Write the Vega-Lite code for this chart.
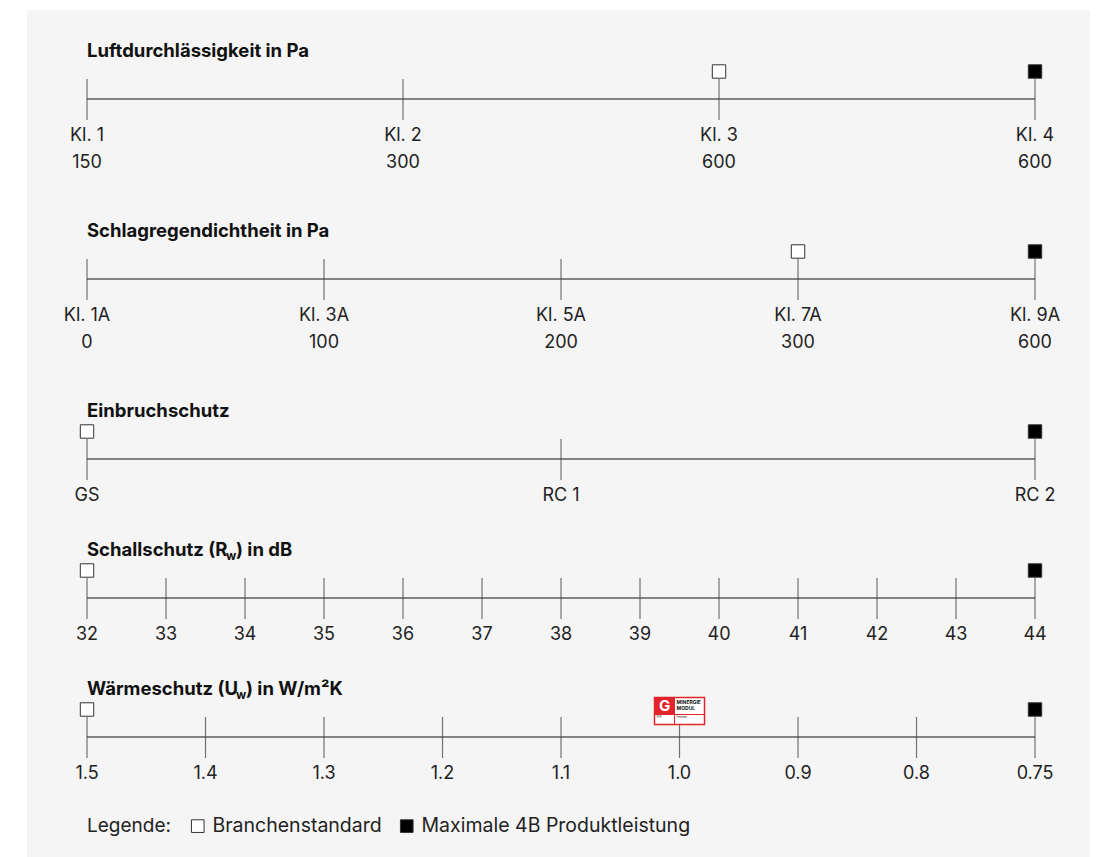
{
  "$schema": "https://vega.github.io/schema/vega-lite/v6.json",
  "width": 1100,
  "height": 857,
  "autosize": {"type": "fit", "contains": "padding"},
  "padding": {"left": 27, "top": 10, "right": 10, "bottom": 0},
  "background": "#ffffff",
  "config": {
    "view": {"fill": "#f5f5f5", "stroke": null},
    "font": "Inter",
    "text": {"font": "Inter"}
  },
  "datasets": {
    "titles": [
      {"row": 1, "pos": 0, "t1": "Luftdurchlässigkeit in Pa"},
      {"row": 2, "pos": 0, "t1": "Schlagregendichtheit in Pa"},
      {"row": 3, "pos": 0, "t1": "Einbruchschutz"},
      {"row": 4, "pos": 0, "t1": "Schallschutz (R", "sub": "w", "t2": ") in dB"},
      {"row": 5, "pos": 0, "t1": "Wärmeschutz (U", "sub": "w", "t2": ") in W/m²K"}
    ],
    "ticks": [
      {"row": 1, "pos": 0, "l1": "Kl. 1", "l2": "150"},
      {"row": 1, "pos": 0.33333, "l1": "Kl. 2", "l2": "300"},
      {"row": 1, "pos": 0.66667, "l1": "Kl. 3", "l2": "600"},
      {"row": 1, "pos": 1, "l1": "Kl. 4", "l2": "600"},
      {"row": 2, "pos": 0, "l1": "Kl. 1A", "l2": "0"},
      {"row": 2, "pos": 0.25, "l1": "Kl. 3A", "l2": "100"},
      {"row": 2, "pos": 0.5, "l1": "Kl. 5A", "l2": "200"},
      {"row": 2, "pos": 0.75, "l1": "Kl. 7A", "l2": "300"},
      {"row": 2, "pos": 1, "l1": "Kl. 9A", "l2": "600"},
      {"row": 3, "pos": 0, "l1": "GS"},
      {"row": 3, "pos": 0.5, "l1": "RC 1"},
      {"row": 3, "pos": 1, "l1": "RC 2"},
      {"row": 4, "pos": 0, "l1": "32"},
      {"row": 4, "pos": 0.08333, "l1": "33"},
      {"row": 4, "pos": 0.16667, "l1": "34"},
      {"row": 4, "pos": 0.25, "l1": "35"},
      {"row": 4, "pos": 0.33333, "l1": "36"},
      {"row": 4, "pos": 0.41667, "l1": "37"},
      {"row": 4, "pos": 0.5, "l1": "38"},
      {"row": 4, "pos": 0.58333, "l1": "39"},
      {"row": 4, "pos": 0.66667, "l1": "40"},
      {"row": 4, "pos": 0.75, "l1": "41"},
      {"row": 4, "pos": 0.83333, "l1": "42"},
      {"row": 4, "pos": 0.91667, "l1": "43"},
      {"row": 4, "pos": 1, "l1": "44"},
      {"row": 5, "pos": 0, "l1": "1.5"},
      {"row": 5, "pos": 0.125, "l1": "1.4"},
      {"row": 5, "pos": 0.25, "l1": "1.3"},
      {"row": 5, "pos": 0.375, "l1": "1.2"},
      {"row": 5, "pos": 0.5, "l1": "1.1"},
      {"row": 5, "pos": 0.625, "l1": "1.0"},
      {"row": 5, "pos": 0.75, "l1": "0.9"},
      {"row": 5, "pos": 0.875, "l1": "0.8"},
      {"row": 5, "pos": 1, "l1": "0.75"}
    ],
    "markers": [
      {"row": 1, "pos": 0.66667, "kind": "Branchenstandard"},
      {"row": 1, "pos": 1, "kind": "Maximale 4B Produktleistung"},
      {"row": 2, "pos": 0.75, "kind": "Branchenstandard"},
      {"row": 2, "pos": 1, "kind": "Maximale 4B Produktleistung"},
      {"row": 3, "pos": 0, "kind": "Branchenstandard"},
      {"row": 3, "pos": 1, "kind": "Maximale 4B Produktleistung"},
      {"row": 4, "pos": 0, "kind": "Branchenstandard"},
      {"row": 4, "pos": 1, "kind": "Maximale 4B Produktleistung"},
      {"row": 5, "pos": 0, "kind": "Branchenstandard"},
      {"row": 5, "pos": 1, "kind": "Maximale 4B Produktleistung"}
    ],
    "logo": [{"row": 5, "pos": 0.625}]
  },
  "encoding": {
    "x": {"field": "pos", "type": "quantitative", "scale": {"domain": [-0.0633, 1.058], "nice": false, "zero": false}, "axis": null},
    "y": {"field": "row", "type": "quantitative", "scale": {"domain": [1, 2, 3, 4, 5], "range": [89, 269, 449, 588, 727], "nice": false, "zero": false}, "axis": null}
  },
  "layer": [
    {
      "data": {"name": "ticks"},
      "mark": {"type": "line", "color": "#111111", "strokeWidth": 1},
      "encoding": {"detail": {"field": "row", "type": "nominal"}}
    },
    {
      "data": {"name": "ticks"},
      "mark": {"type": "tick", "orient": "vertical", "size": 41, "thickness": 1.2, "color": "#3a3a3a", "yOffset": 0.5}
    },
    {
      "data": {"name": "ticks"},
      "mark": {"type": "text", "fontSize": 18, "color": "#222222", "baseline": "middle", "dy": 37},
      "encoding": {"text": {"field": "l1"}}
    },
    {
      "data": {"name": "ticks"},
      "transform": [{"filter": "datum.l2"}],
      "mark": {"type": "text", "fontSize": 18, "color": "#222222", "baseline": "middle", "dy": 64},
      "encoding": {"text": {"field": "l2"}}
    },
    {
      "data": {"name": "markers"},
      "mark": {"type": "point", "shape": "square", "size": 180, "filled": true, "opacity": 1, "stroke": "#333333", "strokeWidth": 1, "yOffset": -27.5},
      "encoding": {
        "fill": {
          "field": "kind", "type": "nominal",
          "scale": {"domain": ["Branchenstandard", "Maximale 4B Produktleistung"], "range": ["#ffffff", "#000000"]},
          "legend": {
            "title": "Legende:", "orient": "none", "legendX": 60, "legendY": 806,
            "direction": "horizontal", "titleOrient": "left", "titleFontSize": 19, "titleFontWeight": "normal",
            "titleFont": "Inter", "titleColor": "#222222", "titlePadding": 17, "titleBaseline": "middle",
            "labelFont": "Inter", "labelFontSize": 19.5, "labelColor": "#222222", "labelOffset": 5, "labelLimit": 400,
            "symbolType": "square", "symbolSize": 160, "symbolStrokeColor": "#333333", "symbolStrokeWidth": 1,
            "symbolOpacity": 1, "columnPadding": 15
          }
        }
      }
    },
    {
      "data": {"name": "titles"},
      "mark": {"type": "text", "align": "left", "baseline": "middle", "fontSize": 18.5, "fontWeight": "bold", "color": "#111111", "dy": -48},
      "encoding": {"text": {"field": "t1"}}
    },
    {
      "data": {"name": "titles"},
      "transform": [{"filter": "datum.row == 4"}],
      "mark": {"type": "text", "align": "left", "baseline": "middle", "fontSize": 12, "fontWeight": "bold", "color": "#111111", "dy": -42, "dx": 139},
      "encoding": {"text": {"field": "sub"}}
    },
    {
      "data": {"name": "titles"},
      "transform": [{"filter": "datum.row == 4"}],
      "mark": {"type": "text", "align": "left", "baseline": "middle", "fontSize": 18.5, "fontWeight": "bold", "color": "#111111", "dy": -48, "dx": 149},
      "encoding": {"text": {"field": "t2"}}
    },
    {
      "data": {"name": "titles"},
      "transform": [{"filter": "datum.row == 5"}],
      "mark": {"type": "text", "align": "left", "baseline": "middle", "fontSize": 12, "fontWeight": "bold", "color": "#111111", "dy": -42, "dx": 149},
      "encoding": {"text": {"field": "sub"}}
    },
    {
      "data": {"name": "titles"},
      "transform": [{"filter": "datum.row == 5"}],
      "mark": {"type": "text", "align": "left", "baseline": "middle", "fontSize": 18.5, "fontWeight": "bold", "color": "#111111", "dy": -48, "dx": 159},
      "encoding": {"text": {"field": "t2"}}
    },
    {
      "data": {"name": "logo"},
      "mark": {"type": "point", "shape": "M-1,-0.54H1V0.54H-1Z", "size": 2500, "filled": true, "fill": "#ffffff", "stroke": "#e3242b", "strokeWidth": 1.5, "opacity": 1, "yOffset": -26}
    },
    {
      "data": {"name": "logo"},
      "mark": {"type": "point", "shape": "M-1,-0.54H-0.2V0.14H-1Z M-1,0.14H1 M-0.2,0.14V0.54", "size": 2500, "filled": true, "fill": "#e3242b", "stroke": "#e3242b", "strokeWidth": 1, "opacity": 1, "yOffset": -26}
    },
    {
      "data": {"name": "logo"},
      "mark": {"type": "text", "text": "G", "fontSize": 15, "fontWeight": "bold", "color": "#ffffff", "baseline": "middle", "dx": -15, "dy": -31}
    },
    {
      "data": {"name": "logo"},
      "mark": {"type": "text", "text": "MINERGIE", "fontSize": 5, "fontWeight": "bold", "color": "#111111", "align": "left", "baseline": "middle", "dx": -3, "dy": -35}
    },
    {
      "data": {"name": "logo"},
      "mark": {"type": "text", "text": "MODUL", "fontSize": 5, "fontWeight": "bold", "color": "#111111", "align": "left", "baseline": "middle", "dx": -3, "dy": -29}
    },
    {
      "data": {"name": "logo"},
      "mark": {"type": "text", "text": "FFF", "fontSize": 3, "color": "#111111", "align": "left", "baseline": "middle", "dx": -23, "dy": -20}
    },
    {
      "data": {"name": "logo"},
      "mark": {"type": "text", "text": "Fenster", "fontSize": 3, "color": "#111111", "align": "left", "baseline": "middle", "dx": -3, "dy": -20}
    }
  ]
}
